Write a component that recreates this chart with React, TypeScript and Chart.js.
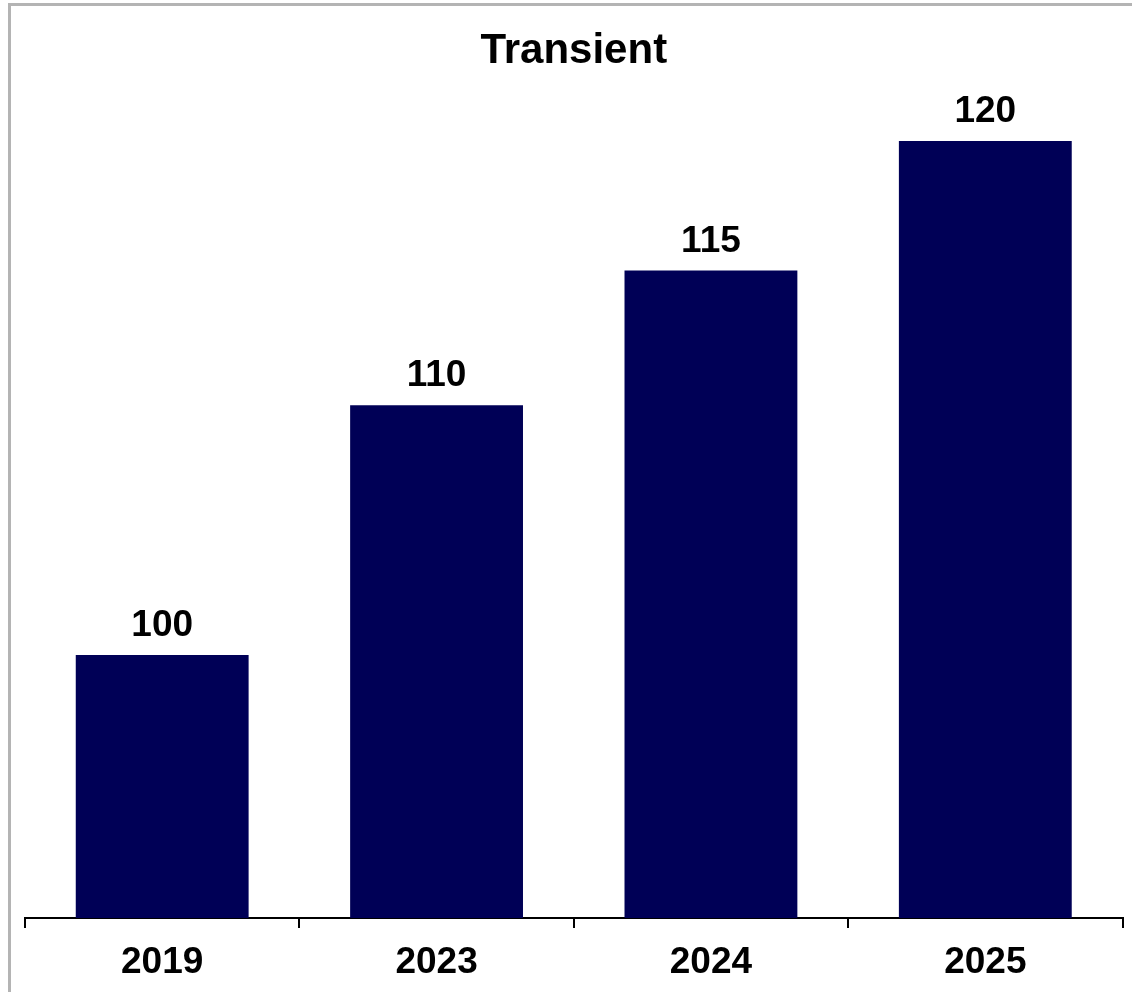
import React, { useEffect, useRef } from "react";
import { Chart, registerables } from "chart.js";

Chart.register(...registerables);

const categories: string[] = ["2019", "2023", "2024", "2025"];
const transientValues: number[] = [100.15, 109.8, 115.0, 120.0];
const chartTitle = "Transient";
const yMin = 90;
const yMax = 122.24;

const FONT = "Arial, 'Liberation Sans', sans-serif";
const BAR_COLOR = "#000056";

const valueLabelPlugin = {
  id: "valueLabels",
  afterDatasetsDraw(chart: any) {
    const { ctx } = chart;
    const meta = chart.getDatasetMeta(0);
    ctx.save();
    ctx.font = `bold 37px ${FONT}`;
    ctx.fillStyle = "#000000";
    ctx.textAlign = "center";
    ctx.textBaseline = "alphabetic";
    meta.data.forEach((bar: any, i: number) => {
      const v = chart.data.datasets[0].data[i] as number;
      ctx.fillText(String(Math.round(v)), bar.x, bar.y - 19);
    });
    ctx.restore();
  },
};

export default function App() {
  const canvasRef = useRef<HTMLCanvasElement | null>(null);

  useEffect(() => {
    document.body.style.margin = "0";
    document.body.style.overflow = "hidden";
    const canvas = canvasRef.current;
    if (!canvas) return;
    const chart = new Chart(canvas, {
      type: "bar",
      data: {
        labels: categories,
        datasets: [
          {
            label: chartTitle,
            data: transientValues,
            backgroundColor: BAR_COLOR,
            borderWidth: 0,
            barPercentage: 0.63,
            categoryPercentage: 1,
          },
        ],
      },
      options: {
        responsive: false,
        animation: false,
        devicePixelRatio: 1,
        layout: { padding: { left: 25, right: 9.5, top: 0, bottom: 0 } },
        plugins: {
          legend: { display: false },
          tooltip: { enabled: false },
          title: {
            display: true,
            text: chartTitle,
            color: "#000000",
            font: { family: FONT, size: 42, weight: "bold" },
            padding: { top: 26, bottom: 6.6 },
          },
        },
        scales: {
          x: {
            offset: true,
            afterFit: (scale: any) => {
              scale.height = 74;
            },
            grid: {
              display: true,
              offset: true,
              drawOnChartArea: false,
              drawTicks: true,
              tickLength: 10,
              color: "#000000",
              lineWidth: 2,
            },
            border: { display: true, color: "#000000", width: 2 },
            ticks: {
              color: "#000000",
              padding: 13,
              font: { family: FONT, size: 37, weight: "bold" },
            },
          },
          y: {
            display: false,
            min: yMin,
            max: yMax,
          },
        },
      },
      plugins: [valueLabelPlugin],
    });
    return () => chart.destroy();
  }, []);

  return (
    <div style={{ position: "fixed", left: 0, top: 0, width: 1132, height: 992, overflow: "hidden", background: "#ffffff" }}>
      <div
        style={{
          position: "absolute",
          left: 8,
          top: 3,
          width: 1200,
          height: 1100,
          borderTop: "3px solid #b4b4b4",
          borderLeft: "3px solid #b4b4b4",
          boxSizing: "border-box",
        }}
      />
      <canvas
        ref={canvasRef}
        width={1132}
        height={992}
        style={{ position: "absolute", left: 0, top: 0, width: 1132, height: 992 }}
      />
    </div>
  );
}
